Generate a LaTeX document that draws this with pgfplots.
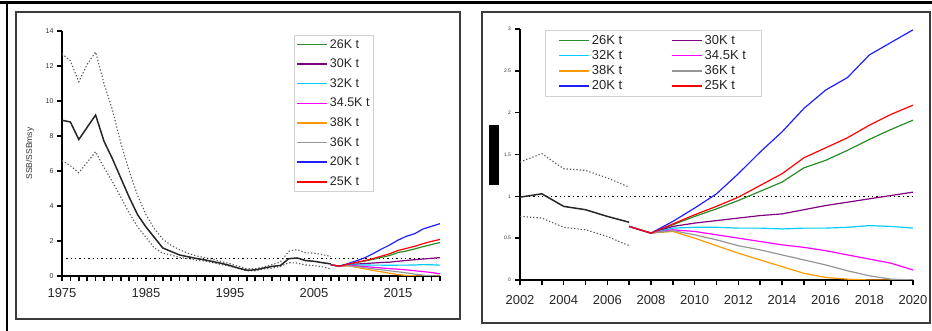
\documentclass[border=0pt]{standalone}
\usepackage{pgfplots}
\pgfplotsset{compat=1.18}
\usepackage{fontspec}
\setmainfont{Liberation Sans}
\definecolor{cgreen}{RGB}{40,140,40}
\definecolor{cpurple}{RGB}{128,0,128}
\definecolor{ccyan}{RGB}{0,204,255}
\definecolor{cmag}{RGB}{255,0,255}
\definecolor{corange}{RGB}{255,153,0}
\definecolor{cgray}{RGB}{150,150,150}
\definecolor{cblue}{RGB}{30,30,255}
\definecolor{cred}{RGB}{255,0,0}
\definecolor{framecol}{RGB}{60,60,60}

\pgfplotstableread{
year hist up lo
1975 8.9 12.7 6.6
1976 8.8 12.3 6.3
1977 7.8 11.1 5.9
1978 8.5 12.1 6.5
1979 9.2 12.8 7.1
1980 7.7 11.0 6.2
1981 6.7 9.5 5.4
1982 5.6 7.6 4.5
1983 4.5 6.0 3.6
1984 3.5 4.6 2.8
1985 2.8 3.5 2.2
1986 2.2 2.7 1.6
1987 1.6 2.1 1.3
1988 1.4 1.75 1.2
1989 1.2 1.5 1.05
1990 1.1 1.3 1.0
1991 1.0 1.15 0.9
1992 0.92 1.05 0.85
1993 0.82 0.95 0.75
1994 0.72 0.82 0.65
1995 0.6 0.7 0.55
1996 0.45 0.55 0.42
1997 0.33 0.42 0.3
1998 0.35 0.42 0.3
1999 0.45 0.52 0.4
2000 0.55 0.65 0.45
2001 0.6 0.8 0.55
2002 0.99 1.41 0.76
2003 1.03 1.51 0.74
2004 0.88 1.33 0.63
2005 0.84 1.31 0.60
2006 0.76 1.22 0.52
2007 0.69 1.11 0.41
}\hist

\pgfplotstableread{
year k26 k30 k32 k345 k38 k36 k20 k25
2007 0.64 0.64 0.64 0.64 0.64 0.64 0.64 0.64
2008 0.56 0.56 0.56 0.56 0.56 0.56 0.56 0.56
2009 0.66 0.64 0.62 0.60 0.58 0.59 0.70 0.67
2010 0.76 0.68 0.63 0.58 0.50 0.54 0.86 0.78
2011 0.85 0.71 0.63 0.54 0.41 0.48 1.03 0.88
2012 0.95 0.74 0.62 0.50 0.32 0.41 1.27 0.99
2013 1.06 0.77 0.62 0.46 0.24 0.36 1.53 1.13
2014 1.17 0.79 0.61 0.42 0.16 0.30 1.77 1.27
2015 1.34 0.84 0.62 0.39 0.08 0.24 2.05 1.46
2016 1.43 0.89 0.62 0.35 0.03 0.18 2.27 1.58
2017 1.55 0.93 0.63 0.30 0.01 0.11 2.42 1.70
2018 1.68 0.97 0.65 0.25 0.0 0.05 2.69 1.85
2019 1.80 1.01 0.64 0.20 0.0 0.01 2.84 1.98
2020 1.91 1.05 0.62 0.12 0.0 0.0 2.99 2.09
}\proj

\pgfplotsset{
  legend image code/.code={\draw[#1, line width=1.4pt] (0pt,0pt) -- (30pt,0pt);},
  hl/.style={black!85, line width=1.5pt},
  dl/.style={gray!70!black, line width=1.1pt, dash pattern=on 1.3pt off 2pt},
  ref/.style={black, line width=1.3pt, dash pattern=on 1.4pt off 3pt},
  pl/.style={line width=1.2pt},
}

\begin{document}
\begin{tikzpicture}
\useasboundingbox (0pt,0pt) rectangle (932pt,331pt);
% frames
\draw[black, line width=2.5pt] (0pt,328.5pt) -- (932pt,328.5pt);
\draw[black, line width=2pt] (6.5pt,328.5pt) -- (6.5pt,0pt);
\draw[framecol, line width=1.8pt] (16pt,12pt) rectangle (460pt,319pt);
\draw[framecol, line width=1.8pt] (482pt,8pt) rectangle (930pt,319pt);
\fill[black] (489pt,146pt) rectangle (499pt,206pt);

% left panel
\begin{axis}[
  scale only axis,
  at={(62pt,55pt)}, anchor=south west,
  width=378pt, height=245pt,
  axis x line*=bottom, axis y line*=left,
  x axis line style={black, line width=1.3pt},
  y axis line style={black, line width=1.3pt},
  xtick align=outside, ytick align=outside,
  xmin=1975, xmax=2020, ymin=0, ymax=14,
  xtick={1975,1985,...,2015},
  minor xtick={1975,...,2020},
  ytick={0,2,...,14},
  x tick style={black, line width=1.6pt},
  y tick style={black, line width=1.6pt},
  minor x tick style={black, line width=1.6pt},
  major tick length=5pt, minor tick length=5pt,
  xticklabel style={font=\fontsize{13}{13}\selectfont, text=black!85, yshift=-4pt},
  yticklabel style={font=\fontsize{7}{7}\selectfont, text=black!80},
  /pgf/number format/assume math mode=true,
  /pgf/number format/1000 sep={},
  ylabel={SSB/SSBmsy},
  ylabel style={font=\fontsize{8.5}{9}\selectfont, text=black!80, at={(axis description cs:-0.085,0.5)}, anchor=center},
  legend style={at={(axis description cs:0.614,0.984)}, anchor=north west,
    draw=gray!35, line width=0.8pt, font=\fontsize{12.5}{13}\selectfont,
    row sep=5.4pt, inner sep=2pt, text=black!85},
  legend cell align=left,
]
\addplot[dl, forget plot] table[x=year,y=up] {\hist};
\addplot[dl, forget plot] table[x=year,y=lo] {\hist};
\addplot[ref, forget plot] coordinates {(1975.5,1) (2020,1)};
\addplot[hl, forget plot] table[x=year,y=hist] {\hist};
\addplot[pl, cgreen] table[x=year,y=k26] {\proj};
\addplot[pl, cpurple] table[x=year,y=k30] {\proj};
\addplot[pl, ccyan] table[x=year,y=k32] {\proj};
\addplot[pl, cmag] table[x=year,y=k345] {\proj};
\addplot[pl, corange] table[x=year,y=k38] {\proj};
\addplot[pl, cgray] table[x=year,y=k36] {\proj};
\addplot[pl, cblue] table[x=year,y=k20] {\proj};
\addplot[pl, cred] table[x=year,y=k25] {\proj};
\legend{26K t,30K t,32K t,34.5K t,38K t,36K t,20K t,25K t}
\end{axis}

% right panel
\begin{axis}[
  scale only axis,
  at={(520pt,51pt)}, anchor=south west,
  width=393pt, height=251pt,
  axis x line*=bottom, axis y line*=left,
  x axis line style={black, line width=1.3pt},
  y axis line style={black, line width=1.3pt},
  xtick align=outside, ytick align=outside,
  xmin=2002, xmax=2020, ymin=0, ymax=3,
  xtick={2002,2004,...,2020},
  minor xtick={2002,...,2020},
  ytick={0,0.5,...,3},
  yticklabels={0,0.5,1,1.5,2,2.5,3},
  x tick style={black, line width=1.6pt},
  y tick style={black, line width=1.6pt},
  minor x tick style={black, line width=1.6pt},
  major tick length=5.5pt, minor tick length=5.5pt,
  xticklabel style={font=\fontsize{13}{13}\selectfont, text=black!85, yshift=-6pt},
  yticklabel style={font=\fontsize{5}{5}\selectfont, text=black!80},
  /pgf/number format/assume math mode=true,
  /pgf/number format/1000 sep={},
  legend columns=2,
  legend style={at={(axis description cs:0.064,0.996)}, anchor=north west,
    draw=gray!35, line width=0.8pt, font=\fontsize{13}{13}\selectfont,
    row sep=0.5pt, inner xsep=13pt, inner ysep=3pt, text=black!85,
    /tikz/column 2/.style={column sep=47pt}},
  legend cell align=left,
]
\addplot[dl, forget plot] table[x=year,y=up, restrict x to domain=2002:2007] {\hist};
\addplot[dl, forget plot] table[x=year,y=lo, restrict x to domain=2002:2007] {\hist};
\addplot[ref, forget plot] coordinates {(2002,1) (2020,1)};
\addplot[hl, forget plot] table[x=year,y=hist, restrict x to domain=2002:2007] {\hist};
\addplot[pl, cgreen] table[x=year,y=k26] {\proj};
\addplot[pl, cpurple] table[x=year,y=k30] {\proj};
\addplot[pl, ccyan] table[x=year,y=k32] {\proj};
\addplot[pl, cmag] table[x=year,y=k345] {\proj};
\addplot[pl, corange] table[x=year,y=k38] {\proj};
\addplot[pl, cgray] table[x=year,y=k36] {\proj};
\addplot[pl, cblue] table[x=year,y=k20] {\proj};
\addplot[pl, cred] table[x=year,y=k25] {\proj};
\legend{26K t,30K t,32K t,34.5K t,38K t,36K t,20K t,25K t}
\end{axis}
\end{tikzpicture}
\end{document}
